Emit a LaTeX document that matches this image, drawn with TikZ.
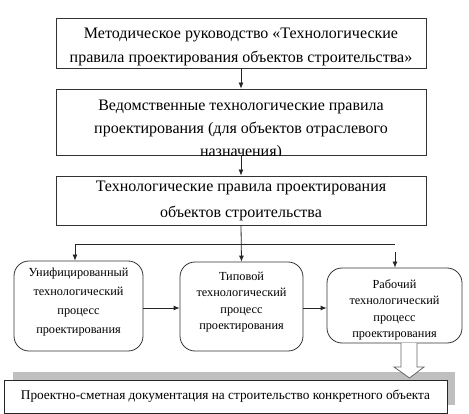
\documentclass[tikz,border=0pt]{standalone}
\usepackage{fontspec}
\setmainfont{Liberation Serif}
\usetikzlibrary{arrows.meta}
\begin{document}
\begin{tikzpicture}[x=1pt,y=1pt,
  bigbox/.style={draw=black!80, line width=0.8pt, minimum width=370pt, inner sep=0pt},
  rbox/.style={draw=black!80, line width=0.8pt, rounded corners=15pt, inner sep=0pt},
  btext/.style={align=center, font=\fontsize{16}{24}\selectfont},
  stext/.style={align=center, font=\fontsize{12.3}{19}\selectfont},
  arr/.style={-{Latex[length=6pt,width=5pt]}, line width=0.8pt, draw=black!85},
  ln/.style={line width=0.8pt, draw=black!85}]
\useasboundingbox (0,0) rectangle (469,-414);
% top boxes
\node[bigbox, minimum height=50pt] (b1) at (241,-43) {};
\node[btext] (t1) at (241,-46.5) {Методическое руководство «Технологические\\правила проектирования объектов строительства»};
\node[bigbox, minimum height=66pt] (b2) at (241,-122) {};
\begin{scope}
\clip (b2.south west) rectangle (b2.north east);
\node[btext, font=\fontsize{16}{23}\selectfont, anchor=north] (t2) at (241,-96) {Ведомственные технологические правила\\проектирования (для объектов отраслевого\\назначения)};
\end{scope}
\node[bigbox, minimum height=49pt] (b3) at (241,-200.5) {};
\node[btext, font=\fontsize{16}{26}\selectfont] (t3) at (241,-201) {Технологические правила проектирования\\объектов строительства};
% rounded boxes
\node[rbox, minimum width=129pt, minimum height=90pt] (b4) at (78.5,-306) {};
\node[stext] (t4) at (78.5,-302) {Унифицированный\\технологический\\процесс\\проектирования};
\node[rbox, minimum width=123pt, minimum height=89pt] (b5) at (241.5,-306.5) {};
\node[stext, font=\fontsize{12.3}{16.5}\selectfont] (t5) at (241.5,-302) {Типовой\\технологический\\процесс\\проектирования};
\node[rbox, minimum width=135pt, minimum height=75pt] (b6) at (394.5,-305.5) {};
\begin{scope}
\clip[rounded corners=15pt] (b6.south west) rectangle (b6.north east);
\node[stext, font=\fontsize{12.3}{16.5}\selectfont] (t6) at (394.5,-310) {Рабочий\\технологический\\процесс\\проектирования};
\end{scope}
% bottom box with shadow
\fill[black!25] (13,-372) rectangle (455,-405);
\node[draw=black!85, line width=0.8pt, fill=white, minimum width=443pt, minimum height=33pt, inner sep=0pt,
  font=\fontsize{13.3}{15}\selectfont] (b7) at (225.5,-396.5) {Проектно-сметная документация на строительство конкретного объекта};
% connectors
\draw[arr] (b1.south) -- (b2.north);
\draw[arr] (b2.south) -- (b3.north);
\coordinate (jl) at (75,-244);
\coordinate (jr) at (395,-244);
\coordinate (jr2) at (395,-252);
\draw[ln] (jl) -- (jr);
\draw[arr] (jl) -- (b4.north -| jl);
\draw[arr] (b3.south) -- (b5.north);
\draw[arr] (jr2) -- (b6.north -| jr2);
\draw[arr] (b4.east |- 0,-308) -- (b5.west |- 0,-308);
\draw[arr] (b5.east |- 0,-308) -- (b6.west |- 0,-308);
% hollow arrow
\draw[line width=0.8pt, draw=black!60, fill=white] (401,-343) -- (401,-367) -- (394,-367) -- (409.5,-378) -- (424,-367) -- (417,-367) -- (417,-343);
\end{tikzpicture}
\end{document}
